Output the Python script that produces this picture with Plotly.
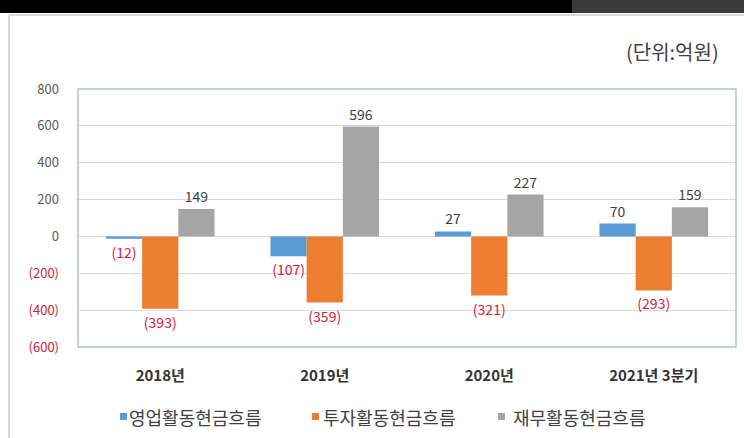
import plotly.graph_objects as go

categories = ["2018년", "2019년", "2020년", "2021년 3분기"]
series_names = ["영업활동현금흐름", "투자활동현금흐름", "재무활동현금흐름"]
operating = [-12, -107, 27, 70]
investing = [-393, -359, -321, -293]
financing = [149, 596, 227, 159]
y_ticks = [-600, -400, -200, 0, 200, 400, 600, 800]
unit_label = "(단위:억원)"

colors = ["#5B9BD5", "#ED7D31", "#A5A5A5"]
RED = "#D3203F"
GRAY_TXT = "#404040"
FONT = "Noto Sans CJK KR"

W, H = 744, 438
L, R, T, B = 78, 8, 89, 91
PW, PH = W - L - R, H - T - B


def px_x(x):
    return (x - L) / PW


def px_y(y):
    return (H - B - y) / PH


def fmt(v):
    return f"({abs(v)})" if v < 0 else f"{v}"


def tick_fmt(v):
    if v < 0:
        return f"<span style='color:{RED}'>({abs(v)})</span>"
    return f"{v}"


fig = go.Figure()
for name, vals, c in zip(series_names, [operating, investing, financing], colors):
    fig.add_trace(go.Bar(
        x=categories, y=vals, name=name, marker=dict(color=c, line=dict(width=0)),
        text=[fmt(v) for v in vals], textposition="outside", cliponaxis=False,
        textfont=dict(family=FONT, size=14,
                      color=[RED if v < 0 else GRAY_TXT for v in vals]),
        showlegend=False,
    ))

fig.update_layout(
    width=W, height=H,
    margin=dict(l=L, r=R, t=T, b=B),
    paper_bgcolor="white", plot_bgcolor="white",
    barmode="group", bargap=0.34, bargroupgap=0,
    font=dict(family=FONT, color=GRAY_TXT),
    showlegend=False,
)
fig.update_xaxes(
    showline=False, showgrid=False, ticks="", tickfont=dict(family=FONT, size=15, color="#333333"),
    tickprefix="<b>", ticksuffix="</b>", ticklabelstandoff=18,
)
fig.update_yaxes(
    range=[-600, 800], tickvals=y_ticks, ticktext=[tick_fmt(v) for v in y_ticks],
    showgrid=True, gridcolor="#D9D9D9", gridwidth=1, zeroline=True, zerolinecolor="#D9D9D9",
    zerolinewidth=1, tickfont=dict(family=FONT, size=13, color="#595959"), ticks="",
    ticklabelstandoff=18,
)

# plot area frame
fig.add_shape(type="rect", xref="paper", yref="paper", x0=0, y0=0, x1=1, y1=1,
              line=dict(color="#A9C4DA", width=1.5), layer="above")
# black strip at top and card border
fig.add_shape(type="rect", xref="paper", yref="paper", x0=px_x(-5), x1=px_x(572), y0=px_y(13), y1=px_y(-5),
              fillcolor="black", line=dict(width=0), layer="below")
fig.add_shape(type="rect", xref="paper", yref="paper", x0=px_x(572), x1=px_x(750), y0=px_y(13), y1=px_y(-5),
              fillcolor="#3a3a3a", line=dict(width=0), layer="below")
fig.add_shape(type="line", xref="paper", yref="paper", x0=px_x(9), x1=px_x(750), y0=px_y(15), y1=px_y(15),
              line=dict(color="#D9D9D9", width=2))
fig.add_shape(type="line", xref="paper", yref="paper", x0=px_x(9), x1=px_x(9), y0=px_y(15), y1=px_y(445),
              line=dict(color="#D9D9D9", width=2))

fig.add_annotation(text=unit_label, xref="paper", yref="paper", x=px_x(721), y=px_y(52),
                   xanchor="right", yanchor="middle", showarrow=False,
                   font=dict(family=FONT, size=20, color="#404040"))

# legend built from small squares and text annotations
legend_marker_x = [120, 312, 498]
legend_text_x = [127, 321, 511]
for name, c, mx, tx in zip(series_names, colors, legend_marker_x, legend_text_x):
    fig.add_shape(type="rect", xref="paper", yref="paper",
                  x0=px_x(mx), x1=px_x(mx + 7), y0=px_y(420), y1=px_y(413),
                  fillcolor=c, line=dict(width=0))
    fig.add_annotation(text=name, xref="paper", yref="paper", x=px_x(tx), y=px_y(417),
                       xanchor="left", yanchor="middle", showarrow=False,
                       font=dict(family=FONT, size=18, color="#404040"))

fig.write_html("out.html", config={"displayModeBar": False},
               post_script="document.body.style.margin='0';document.body.style.overflow='hidden';")
